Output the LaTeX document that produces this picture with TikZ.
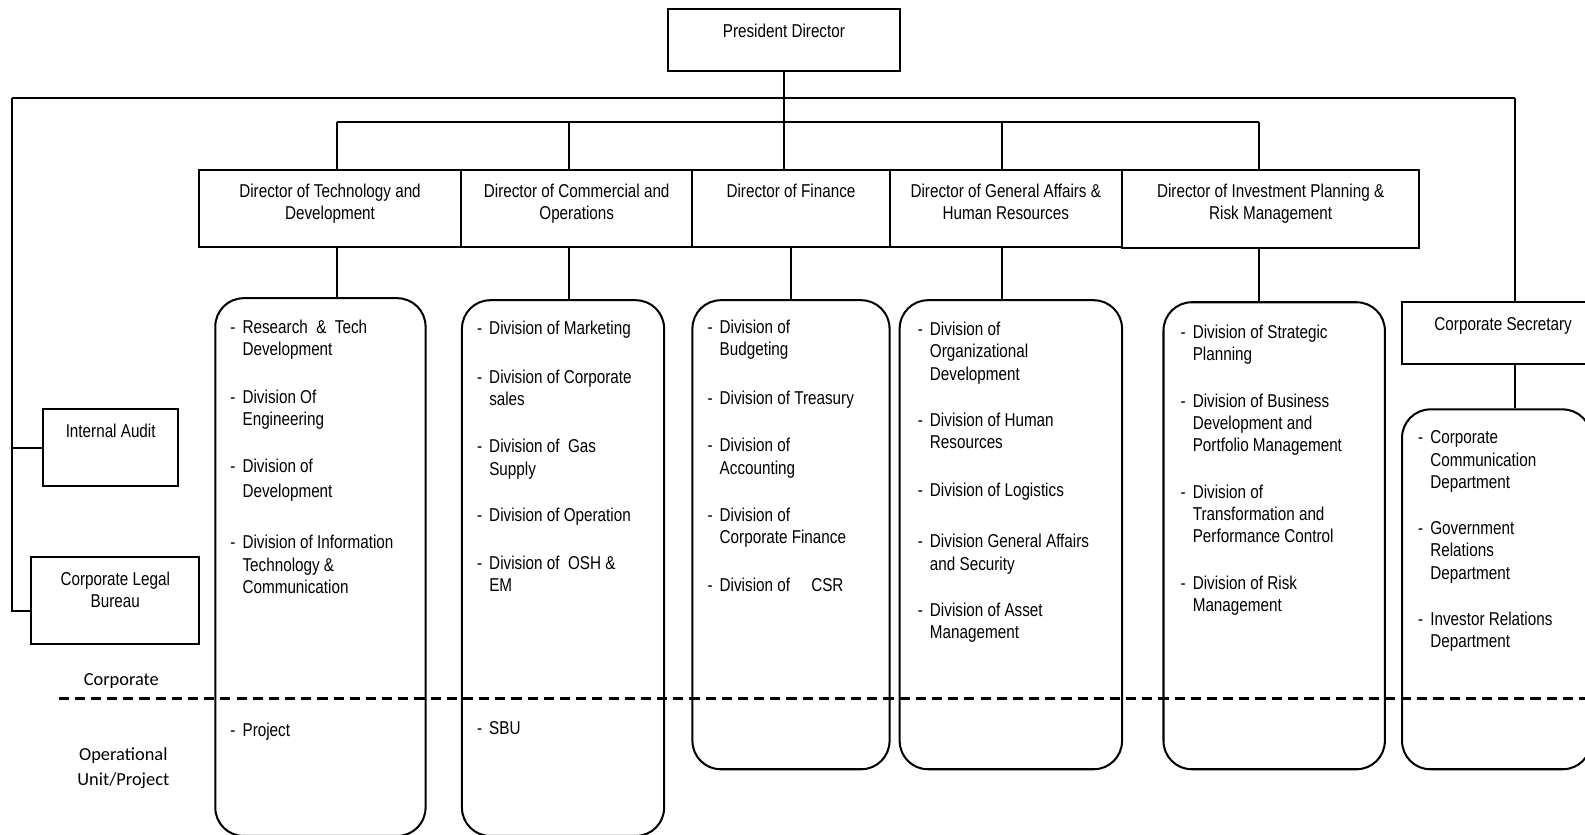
\documentclass[tikz,border=0pt]{standalone}
\usepackage{fontspec}
\setmainfont{Liberation Sans}[FakeStretch=0.82]
\newfontfamily\califont{Carlito}
\newcommand{\textrows}[1]{\begin{tabular}[t]{@{}c@{}}#1\end{tabular}}
\newcommand{\dashitem}[1]{\makebox[12pt][l]{-}\begin{tabular}[t]{@{}l@{}}#1\end{tabular}}

\begin{document}
\begin{tikzpicture}
  [
    x=1pt, y=-1pt, line width=2pt,
    every node/.style={font=\fontsize{18.4}{22}\selectfont, inner sep=0pt},
    post/.style={draw, rectangle, anchor=north west, text height=28pt},
    director/.style={post, text height=27pt, text depth=49pt},
    division/.style={draw, rectangle, rounded corners=28pt, anchor=north west},
    item/.style={anchor=base west},
    level/.style={anchor=base, font=\califont\fontsize{18.2}{25}\selectfont},
  ]
  \useasboundingbox (0,0) rectangle (1568,826);

  \node (pres) at (660,8) [post, minimum width=229pt, text depth=33pt] {\textrows{President Director}};

  \node (dtech) at (196,167) [director, minimum width=259pt] {\textrows{Director of Technology and\\Development}};
  \node (dcom) at (455,167) [director, minimum width=229pt] {\textrows{Director of Commercial and\\Operations}};
  \node (dfin) at (684,167) [director, minimum width=195pt] {\textrows{Director of Finance}};
  \node (dga) at (879,167) [director, minimum width=230pt] {\textrows{Director of General Affairs \&\\Human Resources}};
  \node (dinv) at (1109,167) [director, minimum width=294pt, text depth=50pt] {\textrows{Director of Investment Planning \&\\Risk Management}};

  \node (audit) at (42,404) [post, minimum width=133pt, text depth=48pt] {\textrows{Internal Audit}};
  \node (legal) at (30,550) [post, minimum width=166pt, text depth=58pt] {\textrows{Corporate Legal\\Bureau}};
  \node (csec) at (1386,298) [post, minimum width=200pt, text depth=33pt] {\textrows{Corporate Secretary}};

  \node (techdiv) at (212,294) [division, minimum width=208pt, minimum height=532pt] {};
  \node (comdiv) at (456,296) [division, minimum width=200pt, minimum height=530pt] {};
  \node (findiv) at (684,296) [division, minimum width=195pt, minimum height=464pt] {};
  \node (gadiv) at (889,296) [division, minimum width=220pt, minimum height=464pt] {};
  \node (invdiv) at (1150,298) [division, minimum width=219pt, minimum height=462pt] {};
  \node (csdiv) at (1386,404) [division, minimum width=187pt, minimum height=356pt] {};

  \node (t1) at (227,330) [item] {\dashitem{Research\ \ \&\ \ Tech\\Development}};
  \node (t2) at (227,399) [item] {\dashitem{Division Of\\Engineering}};
  \node (t3) at (227,467) [item] {\dashitem{Division of\\[3pt]Development}};
  \node (t4) at (227,543) [item] {\dashitem{Division of Information\\Technology \&\\Communication}};
  \node (t5) at (227,729) [item] {\dashitem{Project}};

  \node (c1) at (471,331) [item] {\dashitem{Division of Marketing}};
  \node (c2) at (471,379) [item] {\dashitem{Division of Corporate\\sales}};
  \node (c3) at (471,448) [item] {\dashitem{Division of\ \ Gas\\Supply}};
  \node (c4) at (471,516) [item] {\dashitem{Division of Operation}};
  \node (c5) at (471,563) [item] {\dashitem{Division of\ \ OSH \&\\EM}};
  \node (c6) at (471,727) [item] {\dashitem{SBU}};

  \node (f1) at (699,330) [item] {\dashitem{Division of\\Budgeting}};
  \node (f2) at (699,400) [item] {\dashitem{Division of Treasury}};
  \node (f3) at (699,447) [item] {\dashitem{Division of\\Accounting}};
  \node (f4) at (699,516) [item] {\dashitem{Division of\\Corporate Finance}};
  \node (f5) at (699,585) [item] {\dashitem{Division of\ \ \ \ \ CSR}};

  \node (g1) at (907,332) [item] {\dashitem{Division of\\Organizational\\Development}};
  \node (g2) at (907,422) [item] {\dashitem{Division of Human\\Resources}};
  \node (g3) at (907,491) [item] {\dashitem{Division of Logistics}};
  \node (g4) at (907,542) [item] {\dashitem{Division General Affairs\\and Security}};
  \node (g5) at (907,610) [item] {\dashitem{Division of Asset\\Management}};

  \node (i1) at (1167,335) [item] {\dashitem{Division of Strategic\\Planning}};
  \node (i2) at (1167,403) [item] {\dashitem{Division of Business\\Development and\\Portfolio Management}};
  \node (i3) at (1167,493) [item] {\dashitem{Division of\\Transformation and\\Performance Control}};
  \node (i4) at (1167,583) [item] {\dashitem{Division of Risk\\Management}};

  \node (s1) at (1402,439) [item] {\dashitem{Corporate\\Communication\\Department}};
  \node (s2) at (1402,529) [item] {\dashitem{Government\\Relations\\Department}};
  \node (s3) at (1402,619) [item] {\dashitem{Investor Relations\\Department}};

  \node (corp) at (120,678) [level] {Corporate};
  \node (oper) at (122,752) [level] {\textrows{Operational\\Unit/Project}};

  \coordinate (tj) at (333,121);
  \coordinate (cj) at (563,121);
  \coordinate (gj) at (991,121);
  \coordinate (ij) at (1245,121);
  \coordinate (ol) at (12,97);
  \coordinate (or) at (1499,97);
  \coordinate (dl) at (58,691);
  \coordinate (dr) at (1568,691);

  \draw (ol) -- (or);
  \draw (tj) -- (ij);
  \draw (pres.south) -- (pres.south |- dfin.north);
  \draw (tj) -- (tj |- dtech.north);
  \draw (cj) -- (cj |- dcom.north);
  \draw (gj) -- (gj |- dga.north);
  \draw (ij) -- (ij |- dinv.north);
  \draw (audit.west) -| (ol);
  \draw ([yshift=-10pt]legal.west) -| (ol);
  \draw (or) -- (or |- csec.north);
  \draw (tj |- dtech.south) -- (tj |- techdiv.north);
  \draw (cj |- dcom.south) -- (cj |- comdiv.north);
  \draw (dfin.south) -- (dfin.south |- findiv.north);
  \draw (gj |- dga.south) -- (gj |- gadiv.north);
  \draw (ij |- dinv.south) -- (ij |- invdiv.north);
  \draw (or |- csec.south) -- (or |- csdiv.north);
  \draw [line width=2.5pt, dash pattern=on 10pt off 6pt] (dl) -- (dr);
\end{tikzpicture}
\end{document}
